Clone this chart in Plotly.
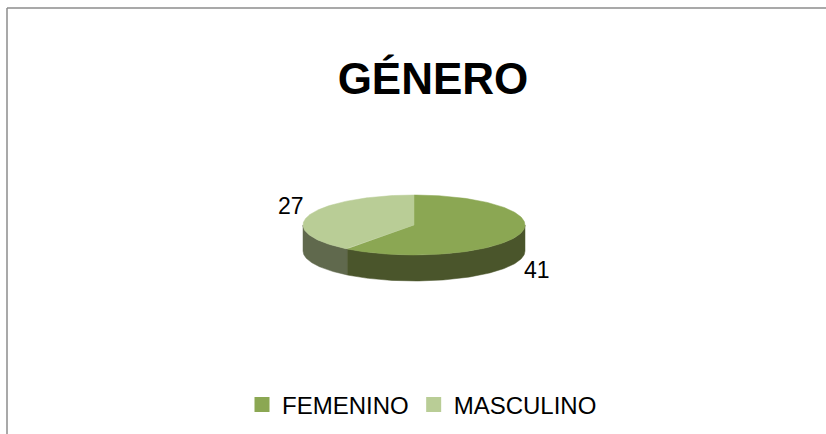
import numpy as np
import plotly.graph_objects as go

# ---- data ----
categories = ["FEMENINO", "MASCULINO"]
values = [41, 27]
top_colors = ["#8BA753", "#B9CD96"]
side_colors = ["#4A552B", "#60694D"]
title_text = "GÉNERO"

# ---- geometry (style) ----
W, H = 826, 434
cx, cy = 414, 225     # centre of top ellipse (pixels)
a, b = 111, 30        # semi-axes
depth = 26            # thickness of the disc

def pt(theta_deg, dy=0.0):
    t = np.radians(theta_deg)
    return cx + a * np.sin(t), cy - b * np.cos(t) + dy

total = sum(values)
bounds = [0.0]
for v in values:
    bounds.append(bounds[-1] + 360.0 * v / total)

fig = go.Figure()

# sides (front half only: 90..270 deg clockwise from top)
for i, cat in enumerate(categories):
    t1, t2 = max(bounds[i], 90.0), min(bounds[i + 1], 270.0)
    if t2 <= t1:
        continue
    th = np.linspace(t1, t2, 120)
    xt, yt = pt(th)
    xb, yb = pt(th[::-1], depth)
    xs = np.concatenate([xt, xb, xt[:1]])
    ys = np.concatenate([yt, yb, yt[:1]])
    fig.add_trace(go.Scatter(x=xs, y=ys, mode="lines", fill="toself",
                             fillcolor=side_colors[i], line=dict(width=0.5, color=side_colors[i]),
                             showlegend=False, hoverinfo="skip"))

# top faces
for i, cat in enumerate(categories):
    th = np.linspace(bounds[i], bounds[i + 1], 200)
    xa, ya = pt(th)
    xs = np.concatenate([[cx], xa, [cx]])
    ys = np.concatenate([[cy], ya, [cy]])
    fig.add_trace(go.Scatter(x=xs, y=ys, mode="lines", fill="toself",
                             fillcolor=top_colors[i], line=dict(width=0.5, color=top_colors[i]),
                             showlegend=False, hoverinfo="skip"))

# data labels
for i, cat in enumerate(categories):
    mid = (bounds[i] + bounds[i + 1]) / 2
    t = np.radians(mid)
    lx = cx + (a + 19) * np.sin(t)
    ly = cy - (b + 30) * np.cos(t) + (depth if np.cos(t) < 0 else 0)
    fig.add_annotation(x=lx, y=ly, text=str(values[i]), showarrow=False,
                       font=dict(family="Liberation Sans, Arial", size=23, color="#000000"),
                       xanchor="center", yanchor="middle")

# legend entries
for i, cat in enumerate(categories):
    fig.add_trace(go.Scatter(x=[None], y=[None], mode="markers", name=cat,
                             marker=dict(symbol="square", size=15, color=top_colors[i])))

# chart border (top and left visible)
fig.add_shape(type="line", x0=7, y0=8, x1=W, y1=8, line=dict(color="#8C8C8C", width=1.5))
fig.add_shape(type="line", x0=7, y0=8, x1=7, y1=H, line=dict(color="#8C8C8C", width=1.5))

fig.update_layout(
    width=W, height=H,
    margin=dict(l=0, r=0, t=0, b=0),
    paper_bgcolor="white", plot_bgcolor="white",
    xaxis=dict(range=[0, W], visible=False, fixedrange=True),
    yaxis=dict(range=[H, 0], visible=False, fixedrange=True),
    title=dict(text="<b>" + title_text + "</b>", x=433 / W, xanchor="center",
               y=1 - 79 / H, yanchor="middle",
               font=dict(family="Liberation Sans, Arial", size=44, color="#000000")),
    showlegend=True,
    legend=dict(orientation="h", x=242 / W, xanchor="left", y=1 - 405 / H,
                yanchor="middle", itemwidth=30,
                font=dict(family="Liberation Sans, Arial", size=24, color="#000000"),
                bgcolor="rgba(0,0,0,0)", itemclick=False, itemdoubleclick=False),
)

fig.write_html("out.html", config={"displayModeBar": False},
               post_script="document.body.style.margin='0';")
